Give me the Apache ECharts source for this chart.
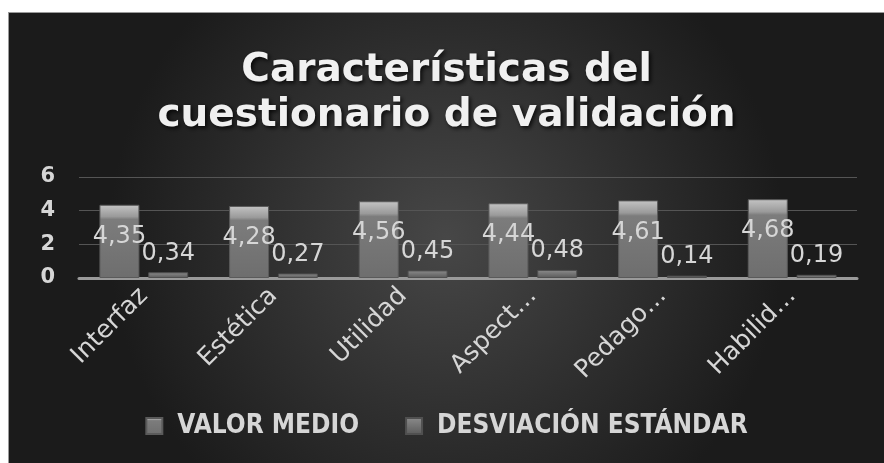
<!DOCTYPE html>
<html>
<head>
<meta charset="utf-8">
<script src="https://cdn.jsdelivr.net/npm/echarts@6/dist/echarts.min.js"></script>
<style>
  html, body { margin: 0; padding: 0; background: #ffffff; }
  #chart {
    position: absolute; left: 8px; top: 12px;
    width: 876px; height: 451px;
    border-left: 1px solid #9a9a9a; border-top: 1px solid #9a9a9a;
    box-sizing: border-box;
  }
</style>
</head>
<body>
<div id="chart"></div>
<script>
// datos del grafico
var categories = ['Interfaz', 'Estética', 'Utilidad', 'Aspect…', 'Pedago…', 'Habilid…']
var valorMedio = [4.35, 4.28, 4.56, 4.44, 4.61, 4.68]
var desviacion = [0.34, 0.27, 0.45, 0.48, 0.14, 0.19]
var yTicks = [0, 2, 4, 6]

var chart = echarts.init(document.getElementById('chart'))

function fmt(p) {
  return p.value.toFixed(2).replace('.', ',')
}

var labelStyle = {
  show: true,
  color: '#d6d6d6',
  fontSize: 24,
  fontFamily: 'DejaVu Sans',
  formatter: fmt
}

chart.setOption({
  backgroundColor: {
    type: 'radial',
    x: 0.5, y: 0.5, r: 0.75,
    colorStops: [
      { offset: 0, color: '#474747' },
      { offset: 1, color: '#1b1b1b' }
    ]
  },
  title: {
    text: 'Características del\ncuestionario de validación',
    left: 'center',
    top: 30,
    textStyle: {
      color: '#f0f0f0',
      fontSize: 39,
      fontWeight: 'bold',
      fontFamily: 'DejaVu Sans',
      lineHeight: 45,
      textShadowColor: 'rgba(0,0,0,0.8)',
      textShadowBlur: 4,
      textShadowOffsetX: 2,
      textShadowOffsetY: 2
    }
  },
  legend: {
    bottom: 19,
    left: 'center',
    itemWidth: 16,
    itemHeight: 16,
    itemGap: 46,
    icon: 'rect',
    textStyle: {
      color: '#d6d6d6',
      fontSize: 26,
      fontWeight: 'bold',
      fontFamily: 'DejaVu Sans Condensed',
      padding: [0, 0, 0, 10]
    },
    data: ['VALOR MEDIO', 'DESVIACIÓN ESTÁNDAR']
  },
  grid: {
    left: 70,
    right: 27,
    top: 164,
    bottom: 185
  },
  xAxis: {
    type: 'category',
    data: categories,
    axisTick: { show: false },
    axisLine: { lineStyle: { color: '#9a9a9a', width: 3 } },
    axisLabel: {
      rotate: 45,
      margin: 14,
      color: '#d6d6d6',
      fontSize: 25,
      fontFamily: 'DejaVu Sans'
    }
  },
  yAxis: {
    type: 'value',
    min: yTicks[0],
    max: yTicks[yTicks.length - 1],
    interval: 2,
    axisLine: { show: false },
    axisTick: { show: false },
    splitLine: { lineStyle: { color: '#555555', width: 1 } },
    axisLabel: {
      margin: 24,
      color: '#d6d6d6',
      fontSize: 21,
      fontWeight: 'bold',
      fontFamily: 'DejaVu Sans'
    }
  },
  series: [
    {
      name: 'VALOR MEDIO',
      type: 'bar',
      data: valorMedio,
      barWidth: 40,
      barGap: '22%',
      itemStyle: {
        color: {
          type: 'linear', x: 0, y: 0, x2: 0, y2: 1,
          colorStops: [
            { offset: 0, color: '#c4c4c4' },
            { offset: 0.16, color: '#9a9a9a' },
            { offset: 0.2, color: '#7c7c7c' },
            { offset: 1, color: '#6e6e6e' }
          ]
        },
        borderColor: '#5a5a5a',
        borderWidth: 1
      },
      label: Object.assign({}, labelStyle, { position: 'insideTop', offset: [0, 15] })
    },
    {
      name: 'DESVIACIÓN ESTÁNDAR',
      type: 'bar',
      data: desviacion,
      barWidth: 40,
      itemStyle: {
        color: {
          type: 'linear', x: 0, y: 0, x2: 0, y2: 1,
          colorStops: [
            { offset: 0, color: '#8c8c8c' },
            { offset: 1, color: '#5a5a5a' }
          ]
        },
        borderColor: '#505050',
        borderWidth: 1
      },
      label: Object.assign({}, labelStyle, { position: 'top', offset: [0, -2] })
    }
  ]
})
</script>
</body>
</html>
